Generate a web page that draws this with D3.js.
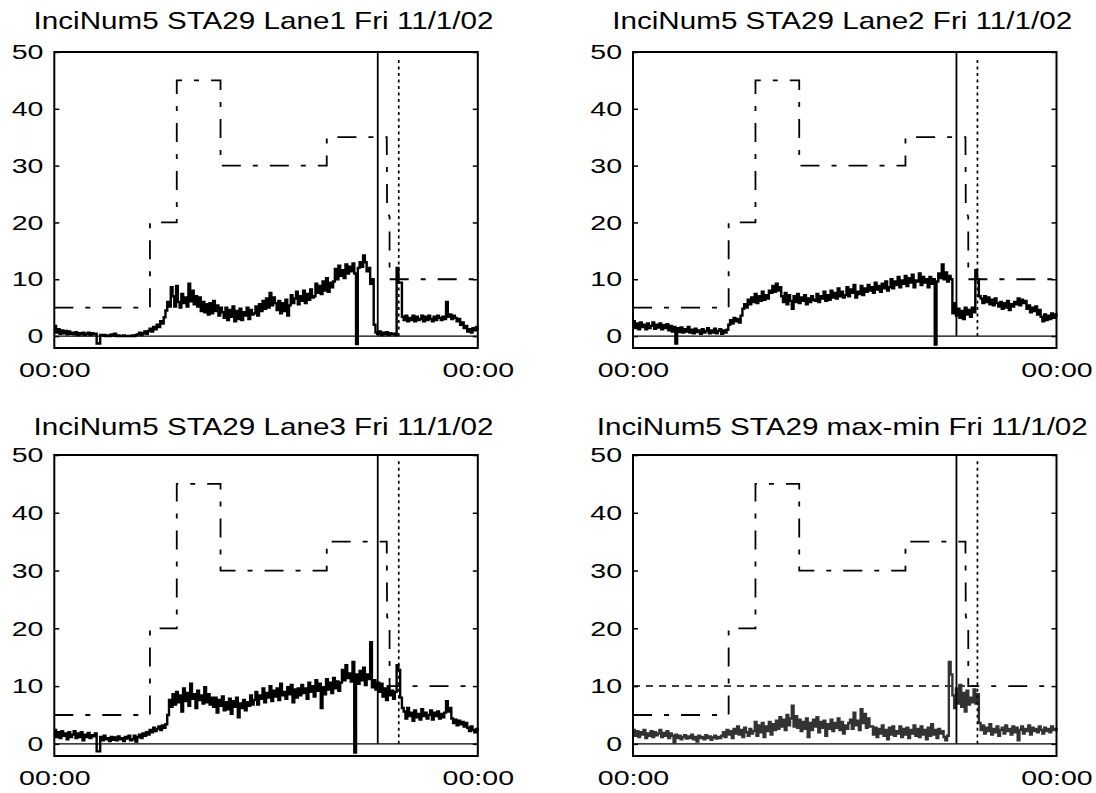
<!DOCTYPE html>
<html>
<head>
<meta charset="utf-8">
<script src="https://cdn.jsdelivr.net/npm/d3@7"></script>
<style>
  body { margin: 0; background: #fff; }
  text { font-family: "Liberation Sans", Arial, sans-serif; fill: #000; }
</style>
</head>
<body>
<svg id="fig" width="1096" height="793"></svg>
<script>

// titles of the four subplots
var titles = [
    "InciNum5 STA29 Lane1 Fri 11/1/02",
    "InciNum5 STA29 Lane2 Fri 11/1/02",
    "InciNum5 STA29 Lane3 Fri 11/1/02",
    "InciNum5 STA29 max-min Fri 11/1/02"
];

// measured series, one sample every 0.1 h from 00:00 to 00:00
var lane1 = [1.8,0.6,1.2,0.4,1.0,0.5,0.9,0.3,0.8,0.4,0.6,0.3,0.7,0.2,0.5,0.3,0.6,0.2,0.4,0.6,0.2,0.5,0.3,0.4,
    -1.3,-1.3,0.2,
    0.1,0.2,0,0.1,0,0.3,0.1,0.4,0,0.1,0,0,0.1,0,0,0,0,0.1,0,0.2,
    0.3,0.6,0.2,0.5,0.8,0.4,
    0.9,1.3,0.8,1.6,1.2,2.0,1.6,2.6,2.2,3.3,
    4.5,6.0,5.2,8.6,
    7.0,5.2,8.8,6.0,5.0,7.4,5.8,6.8,5.2,9.2,6.1,8.0,5.6,7.0,
    5.2,6.8,4.4,6.0,4.2,5.6,3.8,5.8,4.0,6.2,4.4,5.4,3.6,5.0,4.2,
    3.2,5.0,2.8,4.6,3.4,5.2,2.6,4.4,3.0,4.8,2.8,4.2,3.6,5.0,3.0,4.6,3.8,
    4.0,5.2,3.6,5.6,4.4,6.2,4.8,6.6,5.0,7.6,5.4,6.8,5.8,
    4.6,6.2,4.0,5.8,4.4,6.4,3.6,
    5.4,7.2,5.8,6.6,7.8,5.6,7.0,6.2,8.0,5.8,7.4,6.4,8.2,6.8,
    7.0,9.2,7.6,8.8,7.4,9.6,8.0,10.2,7.8,9.4,8.6,
    9.6,11.8,10.0,12.4,10.6,11.6,10.2,12.6,11.0,12.2,
    11.4,12.8,11.0,-1.4,
    12.0,
    13.0,12.2,14.2,13.0,
    11.4,12.0,9.2,10.0,
    2.0,0.6,
    0.4,0.8,0.2,0.6,0.3,0.7,0.2,0.5,0.3,0.4,0.2,
    12.0,
    9.4,9.4,
    3.4,2.8,3.6,2.6,3.2,2.8,3.6,2.6,3.4,2.8,
    3.0,3.6,2.6,3.4,2.8,3.6,3.0,2.6,3.4,2.8,3.6,3.2,2.8,3.4,3.0,
    6.0,
    3.4,3.8,3.0,3.6,3.2,
    2.6,3.0,2.0,2.4,1.4,1.8,0.8,
    1.2,0.6,1.4,1.0,1.6,1.2];

var lane2 = [2.6,1.4,2.2,1.2,2.4,1.6,2.0,1.2,2.2,1.4,1.8,2.4,1.3,2.0,1.5,2.2,1.2,1.9,1.4,2.1,
    1.0,1.8,0.8,1.6,
    -1.3,
    1.4,0.7,1.5,0.6,1.2,0.8,1.6,0.6,1.1,0.5,1.3,0.7,1.0,0.4,1.2,0.6,0.9,1.4,0.5,1.0,0.6,1.3,0.5,0.9,1.2,0.4,1.0,0.6,1.1,
    2.0,2.8,2.2,3.2,2.6,3.0,2.4,
    3.6,4.8,5.6,5.0,6.4,5.6,6.8,
    6.0,7.4,5.8,7.0,6.2,7.8,6.4,7.2,6.6,8.0,
    7.6,8.8,7.8,9.2,8.0,8.6,
    7.0,6.0,7.6,5.6,7.2,6.2,4.8,7.0,6.0,7.4,5.8,6.8,6.2,7.2,5.6,6.6,6.0,7.0,6.4,
    6.2,7.4,6.0,7.0,6.6,7.8,6.2,7.2,6.4,8.0,6.8,7.6,6.6,8.4,7.0,7.8,6.8,
    7.2,8.6,7.0,8.2,7.6,9.0,6.8,7.8,7.4,8.8,7.2,8.4,
    7.8,9.0,8.0,8.6,7.6,9.4,8.2,8.8,7.8,9.2,8.4,9.6,8.0,
    8.6,10.0,8.4,9.6,9.0,10.4,8.6,9.8,9.2,10.6,8.8,10.2,9.4,10.8,8.6,9.8,9.6,11.0,9.0,10.4,9.4,
    10.0,8.6,10.4,9.2,10.0,
    -1.5,
    9.6,11.0,10.2,12.6,10.0,11.2,9.6,10.6,10.0,
    4.0,5.8,
    3.6,4.8,3.2,4.4,3.0,5.0,3.8,4.6,3.4,5.0,4.2,
    11.6,
    10.0,7.0,
    6.6,5.8,7.0,6.0,6.8,5.6,6.4,5.4,6.6,5.8,
    5.2,6.0,4.8,5.8,5.0,6.2,4.6,5.6,5.2,6.0,
    5.6,6.6,5.4,6.4,5.8,6.2,
    4.8,5.4,4.2,5.0,4.4,5.2,3.8,4.6,
    3.4,2.6,3.8,2.8,3.6,3.0,4.0,3.2,3.8,3.4];

var lane3 = [2.4,1.2,2.0,1.0,2.2,1.4,1.8,0.8,2.0,1.2,1.6,2.2,1.0,1.8,1.2,2.0,0.6,1.6,1.2,1.9,1.0,1.5,1.3,1.8,
    -1.3,-1.3,
    1.2,0.6,1.4,0.8,1.0,0.5,1.2,0.7,1.1,0.6,1.3,0.8,1.0,0.5,1.2,0.9,1.4,0.6,
    0.8,1.4,0.4,1.2,1.6,1.0,1.8,1.4,
    2.0,1.6,2.4,2.0,2.8,2.2,2.6,3.0,2.4,3.2,2.8,3.4,
    5.0,7.6,6.4,8.6,
    6.8,9.0,7.2,8.4,5.6,9.6,7.4,8.8,6.6,10.4,7.8,8.6,6.2,9.2,7.6,8.4,7.0,9.8,7.2,8.6,6.8,8.0,
    6.4,8.0,5.4,7.6,6.6,8.2,5.8,7.2,6.0,7.8,5.2,7.4,6.4,8.0,4.6,7.0,6.2,7.6,5.8,7.2,6.6,8.4,6.8,
    7.6,9.0,6.8,8.4,7.8,9.6,7.2,8.8,8.0,10.0,7.4,9.2,8.2,9.6,7.6,10.4,8.4,9.0,7.8,9.8,8.6,10.2,7.2,9.4,8.0,9.6,
    8.4,10.2,8.8,9.6,7.8,10.6,9.0,10.0,8.2,11.0,9.2,10.4,6.2,9.8,8.6,11.2,9.4,10.6,8.8,11.4,9.6,10.8,9.2,
    10.6,12.8,11.0,13.6,11.4,12.2,10.8,14.2,
    -1.5,
    12.0,10.4,12.6,11.0,13.2,10.2,12.0,11.2,
    17.6,
    9.8,11.0,9.4,10.6,
    9.0,10.4,8.2,9.6,7.6,10.0,8.4,9.2,7.8,9.0,
    13.6,12.8,
    8.0,6.2,
    5.6,4.4,6.2,4.8,5.4,4.0,5.8,4.6,5.2,4.2,6.0,4.8,5.4,4.4,5.0,5.8,4.2,5.4,4.8,5.6,4.4,5.2,4.6,5.4,
    7.4,5.6,6.2,
    4.4,3.6,4.2,3.2,4.0,3.4,3.8,3.0,3.6,
    2.8,2.2,3.0,2.4,2.0,2.6,2.2];

var maxMin = [2.4,1.4,2.2,1.2,2.0,1.6,2.4,1.0,1.8,1.4,2.2,1.2,2.0,1.5,1.8,2.4,1.2,1.9,1.4,2.2,1.0,1.8,1.4,
    0.2,
    1.6,1.0,1.4,0.8,1.2,1.5,0.9,1.3,1.0,1.6,0.8,1.2,0.4,1.4,1.0,1.2,0.8,1.5,1.0,1.3,0.7,1.1,1.4,0.9,1.2,1.0,
    1.4,2.0,1.2,2.4,1.6,2.2,1.0,2.6,1.8,3.0,1.6,2.4,1.2,2.8,2.0,1.4,2.6,1.8,2.2,
    3.8,1.4,3.2,2.0,3.6,1.2,3.0,2.2,3.8,1.6,3.4,2.4,
    4.0,2.6,4.6,3.0,4.2,2.4,5.0,3.2,4.4,6.6,3.0,4.8,2.8,
    4.2,2.2,3.8,2.6,4.4,1.2,3.6,2.4,4.2,3.0,4.6,2.0,3.8,2.8,4.0,1.4,3.4,2.6,4.2,2.2,3.6,2.8,4.4,2.4,3.8,1.8,3.2,2.6,3.6,
    4.2,2.6,5.4,3.2,4.0,2.4,6.0,3.6,5.2,2.8,4.4,3.0,
    3.0,1.6,2.8,1.2,2.6,1.8,3.2,1.4,2.4,0.8,2.8,1.6,3.0,1.4,2.2,1.8,3.0,1.2,2.6,1.6,2.8,1.0,2.4,1.8,3.2,1.4,2.6,1.2,3.0,1.6,2.4,0.8,2.8,1.4,3.4,1.6,2.4,1.0,2.6,1.8,2.2,1.2,
    0.6,1.4,
    14.2,12.0,
    8.4,6.2,9.6,7.0,10.2,6.4,8.8,5.6,9.2,6.8,8.0,7.2,9.4,
    7.0,8.6,3.6,2.4,
    3.2,1.8,2.8,2.2,3.4,1.6,2.6,2.0,3.0,1.4,2.4,2.8,1.8,3.2,2.2,2.6,1.6,3.0,2.0,2.8,0.6,2.4,3.0,1.8,2.6,2.2,3.2,1.6,2.8,2.2,2.6,2.0,3.0,2.4,1.8,2.8,2.2,2.6,2.0,3.0,2.4,2.6,2.2];

// dash-dot step line (same in every panel), hours / value
var limitHours  = [0, 5.42, 5.42, 6.94, 6.94, 9.42, 9.42, 15.44, 15.44, 18.84, 18.86, 19.0, 19.0, 24];
var limitValues = [5, 5,    20,   20,   45,   45,   30,   30,    35,    35,    22,    21,   10,   10];

// vertical event markers (hours, from, to) and the dashed 10 line of the max-min panel
var solidMarker = [18.33, 0, 50];
var dottedMarker = [19.52, 0, 49];
var thresholdHours = [0, 19.52];
var thresholdValue = 10;

var yTicks = [0, 10, 20, 30, 40, 50];
var xTicks = [0, 24];
var xTickLabels = ["00:00", "00:00"];

var panels = [
    {title: titles[0], values: lane1,  color: "#000", threshold: false},
    {title: titles[1], values: lane2,  color: "#000", threshold: false},
    {title: titles[2], values: lane3,  color: "#000", threshold: false},
    {title: titles[3], values: maxMin, color: "#333", threshold: true}
];

// layout of the 2x2 grid
var colLeft = [54.3, 633];
var rowTop = [52, 455];
var rowBottom = [348, 756];
var titleY = [29, 435];
var boxW = 423.5;

var svg = d3.select('#fig');
svg.append('rect').attr('width', 1096).attr('height', 793).attr('fill', '#fff');

panels.forEach(function(p, k){

    var col = k % 2, row = Math.floor(k / 2);
    var h = rowBottom[row] - rowTop[row];

    var x = d3.scaleLinear().domain([0, 24]).range([0, boxW]);
    var y = d3.scaleLinear().domain([-2.1, 50]).range([h, 0]);

    var g = svg.append('g')
        .attr('transform', 'translate(' + colLeft[col] + ',' + rowTop[row] + ')');

    // zero line
    g.append('line')
        .attr('x1', x(0)).attr('x2', x(24))
        .attr('y1', y(0)).attr('y2', y(0))
        .attr('stroke', '#000').attr('stroke-width', 1.3);

    // step line, dash-dot
    var limitLine = d3.line()
        .x(function(d, i){ return x(limitHours[i]); })
        .y(function(d){ return y(d); });
    g.append('path')
        .attr('d', limitLine(limitValues))
        .attr('fill', 'none')
        .attr('stroke', '#000')
        .attr('stroke-width', 1.8)
        .attr('stroke-dasharray', '19,12,5,12');

    if(p.threshold){
        g.append('line')
            .attr('x1', x(thresholdHours[0])).attr('x2', x(thresholdHours[1]))
            .attr('y1', y(thresholdValue)).attr('y2', y(thresholdValue))
            .attr('stroke', '#000').attr('stroke-width', 1.5)
            .attr('stroke-dasharray', '7,6');
    }

    // data series (dense noisy trace)
    var n = p.values.length;
    var dataLine = d3.line()
        .x(function(d, i){ return x(i * 24 / (n - 1)); })
        .y(function(d){ return y(d); })
        .curve(d3.curveStepAfter);
    g.append('path')
        .attr('d', dataLine(p.values))
        .attr('fill', 'none')
        .attr('stroke', p.color)
        .attr('stroke-width', 2.4)
        .attr('stroke-linejoin', 'miter');

    // event markers
    g.append('line')
        .attr('x1', x(solidMarker[0])).attr('x2', x(solidMarker[0]))
        .attr('y1', y(solidMarker[1])).attr('y2', y(solidMarker[2]))
        .attr('stroke', '#000').attr('stroke-width', 1.8);
    g.append('line')
        .attr('x1', x(dottedMarker[0])).attr('x2', x(dottedMarker[0]))
        .attr('y1', y(dottedMarker[1])).attr('y2', y(dottedMarker[2]))
        .attr('stroke', '#000').attr('stroke-width', 1.7)
        .attr('stroke-dasharray', '3,3.5');

    // frame
    g.append('rect')
        .attr('width', boxW).attr('height', h)
        .attr('fill', 'none').attr('stroke', '#000').attr('stroke-width', 2);

    // axes
    var left = g.append('g')
        .call(d3.axisLeft(y).tickValues(yTicks).tickSizeInner(-5).tickSizeOuter(0).tickPadding(8));
    var right = g.append('g').attr('transform', 'translate(' + boxW + ',0)')
        .call(d3.axisRight(y).tickValues(yTicks).tickSizeInner(-5).tickSizeOuter(0).tickFormat(''));
    var bottom = g.append('g').attr('transform', 'translate(0,' + h + ')')
        .call(d3.axisBottom(x).tickValues(xTicks).tickSize(0).tickPadding(14)
            .tickFormat(function(d, i){ return xTickLabels[i]; }));

    [left, right, bottom].forEach(function(a){
        a.select('.domain').remove();
        a.selectAll('.tick line').attr('stroke', '#000').attr('stroke-width', 1.5);
        a.selectAll('.tick text')
            .attr('fill', '#1a1a1a')
            .style('font-size', '21px')
            .attr('font-family', null)
            .attr('transform', 'scale(1.36,1)');
    });

    // title
    g.append('text')
        .attr('transform', 'translate(' + (boxW / 2 - 2.5) + ',' + (titleY[row] - rowTop[row]) + ') scale(1.235,1)')
        .attr('text-anchor', 'middle')
        .attr('fill', '#1a1a1a')
        .style('font-size', '24px')
        .text(p.title);
});

</script>
</body>
</html>
